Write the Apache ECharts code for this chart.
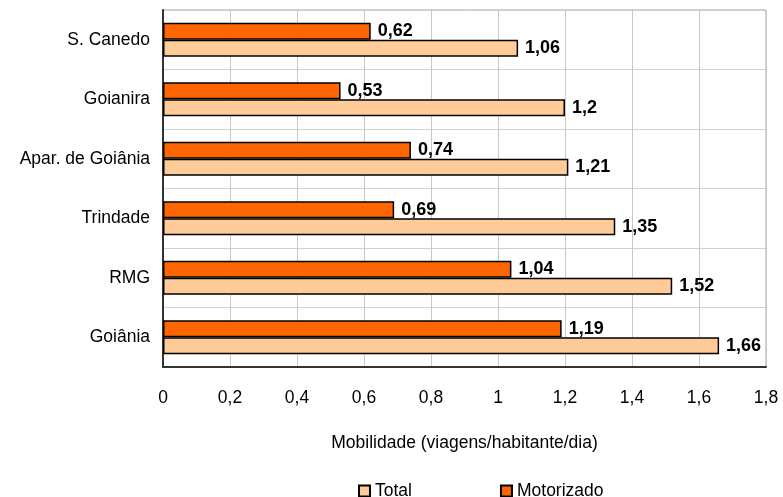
<!DOCTYPE html>
<html>
<head>
<meta charset="utf-8">
<script src="https://cdn.jsdelivr.net/npm/echarts@6/dist/echarts.min.js"></script>
<style>
    html, body { margin: 0; padding: 0; background: #fff; }
    #main { width: 783px; height: 497px; }
</style>
</head>
<body>
<div id="main"></div>
<script>
// dados: de baixo para cima
var cidades = ['Goiânia', 'RMG', 'Trindade', 'Apar. de Goiânia', 'Goianira', 'S. Canedo'];
var total = [1.66, 1.52, 1.35, 1.21, 1.2, 1.06];
var motorizado = [1.19, 1.04, 0.69, 0.74, 0.53, 0.62];
var ticksX = [0, 0.2, 0.4, 0.6, 0.8, 1, 1.2, 1.4, 1.6, 1.8];

var fonte = '"Liberation Sans", Arial, sans-serif';

function virgula(v) {
    return String(v).replace('.', ',');
}

// rótulo em negrito à direita da barra
var rotulo = {
    show: true,
    position: 'right',
    distance: 7,
    fontSize: 18,
    fontWeight: 'bold',
    color: '#000',
    formatter: function(p) { return virgula(p.value); }
};

var myChart = echarts.init(document.getElementById('main'));

var option = {
    backgroundColor: '#fff',
    textStyle: {fontFamily: fonte, color: '#000'},
    animation: false,
    grid: {
        left: 163,
        right: 17,
        top: 10,
        bottom: 130,
        show: true,
        borderColor: '#a0a0a0',
        borderWidth: 1
    },
    legend: {
        data: ['Total', 'Motorizado'],
        top: 477,
        left: 353,
        itemWidth: 11,
        itemHeight: 11,
        itemGap: 88,
        icon: 'rect',
        textStyle: {fontSize: 17.5, color: '#000', fontFamily: fonte}
    },
    xAxis: {
        type: 'value',
        min: ticksX[0],
        max: ticksX[ticksX.length - 1],
        interval: 0.2,
        name: 'Mobilidade (viagens/habitante/dia)',
        nameLocation: 'middle',
        nameGap: 67,
        nameTextStyle: {fontSize: 17.5, color: '#000', fontFamily: fonte},
        axisLine: {show: true, lineStyle: {color: '#333', width: 2}},
        axisTick: {show: false},
        axisLabel: {
            fontSize: 17.5,
            color: '#000',
            margin: 22,
            formatter: function(v) { return virgula(Math.round(v * 10) / 10); }
        },
        splitLine: {show: true, lineStyle: {color: '#c8c8c8', width: 1}}
    },
    yAxis: {
        type: 'category',
        data: cidades,
        axisLine: {show: true, lineStyle: {color: '#333', width: 2}},
        axisTick: {show: false},
        axisLabel: {fontSize: 17.5, color: '#000', margin: 13},
        splitLine: {show: true, lineStyle: {color: '#d0d0d0', width: 1}}
    },
    series: [
        {
            name: 'Motorizado',
            type: 'bar',
            data: motorizado,
            barWidth: 17,
            barGap: '0%',
            itemStyle: {color: '#FF6600', borderColor: '#000', borderWidth: 1.5},
            label: rotulo
        },
        {
            name: 'Total',
            type: 'bar',
            data: total,
            barWidth: 17,
            barGap: '0%',
            itemStyle: {color: '#FFCC99', borderColor: '#000', borderWidth: 1.5},
            label: rotulo
        }
    ]
};

myChart.setOption(option);
</script>
</body>
</html>
